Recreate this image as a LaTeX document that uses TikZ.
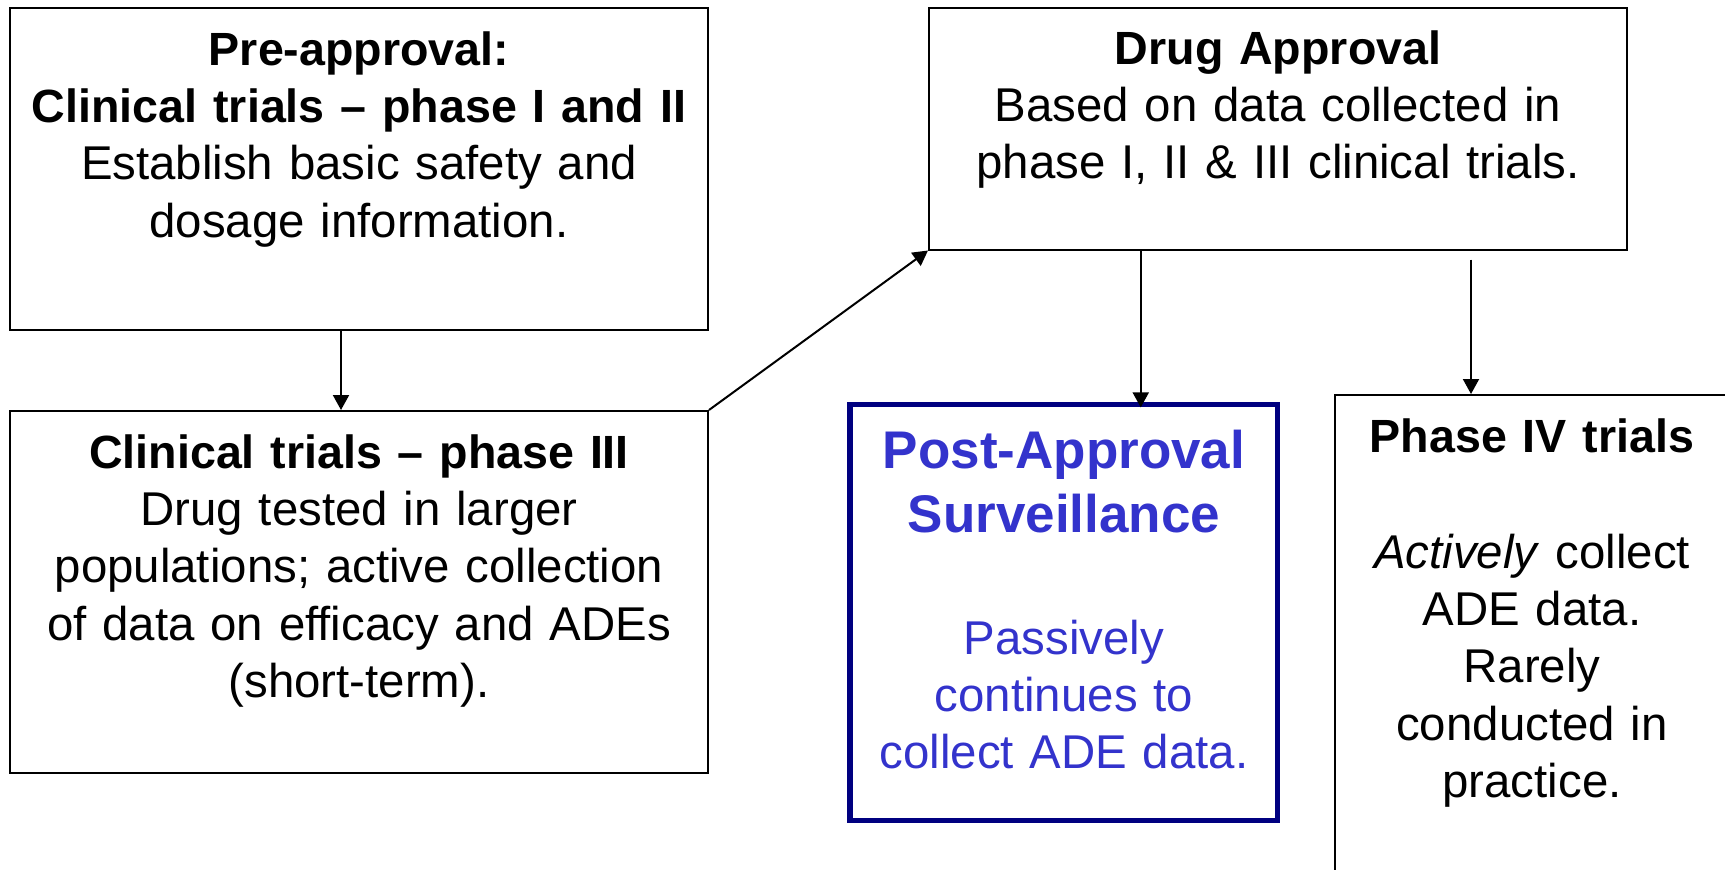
\documentclass[tikz,border=0pt]{standalone}
\usepackage{fontspec}
\setmainfont{Liberation Sans}
\usetikzlibrary{arrows.meta}
\definecolor{navyb}{HTML}{000080}
\definecolor{bluetxt}{HTML}{3333CC}
\newcommand{\bt}[1]{{\fontsize{23.3}{28.7}\selectfont\bfseries #1}}
\begin{document}
\begin{tikzpicture}[x=0.5pt,y=-0.5pt,
  box/.style={draw=black,line width=1pt,inner sep=0pt,minimum width=#1},
  txt/.style={inner sep=0pt,anchor=base,align=center,text width=#1,font=\fontsize{23.7}{28.7}\selectfont},
  ttl/.style={inner sep=0pt,anchor=base,align=center,text width=#1,font=\bfseries\fontsize{26.5}{32}\selectfont},
  arr/.style={draw=black,line width=1pt,-{Triangle[length=7.5pt,width=8pt]}}]
\useasboundingbox[fill=white] (0,0) rectangle (1725,869);
% boxes
\node[box=349pt,minimum height=161pt] (b1) at (359,169) {};
\node[box=349pt,minimum height=181pt] (b2) at (359,592) {};
\node[box=349pt,minimum height=121pt] (b3) at (1278,128.5) {};
\node[draw=navyb,line width=2.6pt,inner sep=0pt,minimum width=213.75pt,minimum height=208pt] (b4) at (1063.75,612.5) {};
\node[box=197pt,minimum height=302.5pt] (b5) at (1532,697.5) {};
% texts
\node[txt=340pt] (t1) at (359,65) {\bt{Pre-approval:}\\\bt{Clinical trials – phase I and II}\\Establish basic safety and\\dosage information.};
\node[txt=340pt] (t2) at (359,468) {\bt{Clinical trials – phase III}\\Drug tested in larger\\populations; active collection\\of data on efficacy and ADEs\\(short-term).};
\node[txt=340pt] (t3) at (1278,64) {\bt{Drug Approval}\\Based on data collected in\\phase I, II \& III clinical trials.};
\node[ttl=205pt,text=bluetxt] (t4a) at (1064,468) {Post-Approval\\Surveillance};
\node[txt=205pt,text=bluetxt] (t4b) at (1064,654) {Passively\\continues to\\collect ADE data.};
\node[txt=190pt] (t5a) at (1532,452) {\bt{Phase IV trials}};
\node[txt=190pt] (t5b) at (1532,568) {\textit{Actively} collect\\ADE data.\\Rarely\\conducted in\\practice.};
% connectors
\draw[arr] ([xshift=-9pt]b1.south) -- ([xshift=-9pt]b2.north);
\draw[arr] (b2.north east) -- (b3.south west);
\draw[arr,shorten >=-2.75pt] ([xshift=38.5pt]b4.north |- b3.south) -- ([xshift=38.5pt]b4.north);
\draw[arr,shorten <=4.5pt] ([xshift=-30.5pt]b5.north |- b3.south) -- ([xshift=-30.5pt]b5.north);
\end{tikzpicture}
\end{document}
